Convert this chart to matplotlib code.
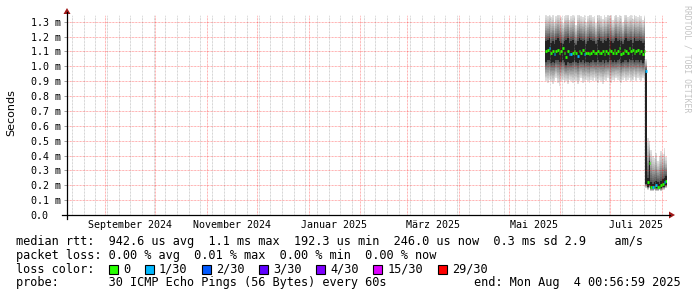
import datetime as dt

import matplotlib
matplotlib.use("Agg")
import matplotlib.pyplot as plt
import matplotlib.dates as mdates
import numpy as np
from matplotlib.patches import Polygon, Rectangle
from matplotlib.transforms import blended_transform_factory

W, H, DPI = 697, 297, 100

end_time = dt.datetime(2025, 8, 4, 0, 56, 59)
span_days = 360
first_day = dt.datetime(2025, 5, 23)

# one value per day, milliseconds
median_ms = [
    1.10, 1.11, 1.12, 1.09, 1.10, 1.08, 1.10, 1.11, 1.09, 1.10,
    1.12, 1.09, 1.06, 1.10, 1.08, 1.08, 1.09, 1.10, 1.09, 1.07,
    1.10, 1.09, 1.11, 1.08, 1.09, 1.09, 1.08, 1.09, 1.10, 1.09,
    1.09, 1.10, 1.09, 1.09, 1.10, 1.08, 1.10, 1.09, 1.11, 1.10,
    1.09, 1.11, 1.09, 1.10, 1.12, 1.08, 1.09, 1.11, 1.10, 1.09,
    1.12, 1.10, 1.11, 1.09, 1.10, 1.11, 1.09, 1.10, 1.08, 1.10,
    0.97,
    0.22, 0.35, 0.19, 0.19, 0.19, 0.20, 0.19, 0.19, 0.20, 0.21, 0.22, 0.23,
]
loss_count = [
    0, 0, 1, 0, 0, 1, 0, 0, 0, 0,
    0, 0, 0, 0, 1, 1, 0, 0, 0, 1,
    0, 0, 0, 1, 0, 0, 0, 0, 0, 0,
    0, 0, 0, 0, 0, 0, 0, 0, 0, 0,
    0, 0, 0, 0, 0, 0, 0, 0, 0, 0,
    0, 0, 0, 0, 0, 0, 0, 0, 0, 0,
    1,
    0, 0, 0, 1, 0, 1, 0, 0, 0, 0, 1, 0,
]
smoke_lo_ms = [
    0.90, 0.89, 0.91, 0.90, 0.88, 0.90, 0.92, 0.89, 0.87, 0.90,
    0.91, 0.89, 0.90, 0.88, 0.91, 0.90, 0.89, 0.91, 0.90, 0.88,
    0.90, 0.92, 0.89, 0.90, 0.91, 0.90, 0.89, 0.91, 0.90, 0.92,
    0.90, 0.89, 0.91, 0.90, 0.88, 0.91, 0.90, 0.92, 0.90, 0.89,
    0.91, 0.90, 0.92, 0.91, 0.90, 0.89, 0.91, 0.92, 0.90, 0.91,
    0.92, 0.90, 0.91, 0.93, 0.90, 0.92, 0.91, 0.90, 0.92, 0.91,
    0.18,
    0.17, 0.18, 0.16, 0.16, 0.17, 0.16, 0.16, 0.17, 0.16, 0.17, 0.17, 0.18,
]
smoke_core_lo_ms = [
    1.03, 1.04, 1.04, 1.02, 1.03, 1.02, 1.04, 1.04, 1.03, 1.03,
    1.04, 1.03, 1.01, 1.03, 1.02, 1.02, 1.03, 1.04, 1.03, 1.02,
    1.04, 1.03, 1.04, 1.02, 1.03, 1.03, 1.02, 1.03, 1.04, 1.03,
    1.03, 1.04, 1.03, 1.03, 1.04, 1.02, 1.04, 1.03, 1.04, 1.04,
    1.03, 1.04, 1.03, 1.04, 1.05, 1.02, 1.03, 1.04, 1.04, 1.03,
    1.05, 1.04, 1.04, 1.03, 1.04, 1.04, 1.03, 1.04, 1.02, 1.04,
    0.21,
    0.19, 0.20, 0.18, 0.18, 0.18, 0.18, 0.18, 0.18, 0.18, 0.19, 0.19, 0.20,
]
smoke_core_hi_ms = [
    1.17, 1.18, 1.19, 1.16, 1.17, 1.15, 1.18, 1.19, 1.17, 1.16,
    1.15, 1.17, 1.18, 1.19, 1.16, 1.17, 1.18, 1.16, 1.14, 1.17,
    1.19, 1.18, 1.17, 1.18, 1.15, 1.17, 1.19, 1.18, 1.17, 1.17,
    1.15, 1.18, 1.19, 1.17, 1.16, 1.18, 1.17, 1.19, 1.18, 1.17,
    1.16, 1.17, 1.19, 1.17, 1.18, 1.17, 1.15, 1.18, 1.19, 1.17,
    1.17, 1.18, 1.16, 1.19, 1.17, 1.17, 1.18, 1.17, 1.16, 1.17,
    0.97,
    0.25, 0.36, 0.22, 0.21, 0.22, 0.23, 0.22, 0.21, 0.23, 0.24, 0.25, 0.26,
]
smoke_hi_ms = [
    1.35, 1.34, 1.36, 1.33, 1.35, 1.30, 1.34, 1.36, 1.35, 1.33,
    1.29, 1.34, 1.35, 1.36, 1.31, 1.34, 1.35, 1.33, 1.28, 1.35,
    1.36, 1.34, 1.33, 1.35, 1.30, 1.34, 1.36, 1.35, 1.33, 1.34,
    1.29, 1.35, 1.36, 1.34, 1.32, 1.35, 1.33, 1.36, 1.34, 1.35,
    1.31, 1.34, 1.36, 1.33, 1.35, 1.34, 1.30, 1.35, 1.36, 1.33,
    1.34, 1.35, 1.32, 1.36, 1.34, 1.33, 1.35, 1.34, 1.31, 1.33,
    1.05,
    0.52, 0.50, 0.44, 0.40, 0.38, 0.42, 0.36, 0.40, 0.43, 0.41, 0.45, 0.39,
]

y_ticks = [0.0, 0.1, 0.2, 0.3, 0.4, 0.5, 0.6, 0.7, 0.8, 0.9, 1.0, 1.1, 1.2, 1.3]
label_months = [(2024, 9), (2024, 11), (2025, 1), (2025, 3), (2025, 5), (2025, 7)]
label_names = ["September 2024", "November 2024", "Januar 2025",
               "März 2025", "Mai 2025", "Juli 2025"]

loss_levels = [0, 1, 2, 3, 4, 15, 29]
loss_names = ["0", "1/30", "2/30", "3/30", "4/30", "15/30", "29/30"]
loss_colors = ["#26ff00", "#00b8ff", "#0059ff", "#5e00ff", "#7e00ff", "#dd00ff", "#ff0000"]

summary_lines = [
    "median rtt:  942.6 us avg  1.1 ms max  192.3 us min  246.0 us now  0.3 ms sd 2.9    am/s",
    "packet loss: 0.00 % avg  0.01 % max  0.00 % min  0.00 % now",
]
probe_text = "probe:       30 ICMP Echo Pings (56 Bytes) every 60s"
end_text = "end: Mon Aug  4 00:56:59 2025"

MONO = "DejaVu Sans Mono"
TEXT_PT = 8.55
CHAR_W = TEXT_PT / 72 * DPI * 0.602
DOTS = (0.36, (0.72, 0.72))  # 1px on, 1px off


def fx(x):
    return x / W


def fy(y):
    return 1 - y / H


def loss_class(c):
    k = 0
    for i, lvl in enumerate(loss_levels):
        if c >= lvl:
            k = i
    return k


def draw_smoke(ax, x0):
    lo = np.array(smoke_lo_ms)
    clo = np.array(smoke_core_lo_ms)
    chi = np.array(smoke_core_hi_ms)
    hi = np.array(smoke_hi_ms)
    steps = 14
    for s in range(steps):
        f = s / steps
        bottom = lo + (clo - lo) * f
        top = hi - (hi - chi) * f
        g = 0.88 - 0.60 * f ** 1.2
        ax.bar(x0, top - bottom, bottom=bottom, width=1.0, align="edge",
               color=(g, g, g), linewidth=0, antialiased=False, zorder=1)
    ax.bar(x0, chi - clo, bottom=clo, width=1.0, align="edge",
           color="#222222", linewidth=0, antialiased=False, zorder=1)


def draw_median(ax, x0):
    classes = [loss_class(c) for c in loss_count]
    for k, col in enumerate(loss_colors):
        sel = [i for i, c in enumerate(classes) if c == k]
        if not sel:
            continue
        ax.hlines([median_ms[i] for i in sel], [x0[i] for i in sel],
                  [x0[i] + 1 for i in sel], colors=col, lw=2.0, zorder=4,
                  capstyle="butt")


def main():
    fig = plt.figure(figsize=(W / DPI, H / DPI), dpi=DPI, facecolor="white")
    ax = fig.add_axes([fx(67), fy(215), 600 / W, 200 / H])

    start_time = end_time - dt.timedelta(days=span_days)
    ax.set_xlim(mdates.date2num(start_time), mdates.date2num(end_time))
    ax.set_ylim(0, 200 / 148.7)

    days = [first_day + dt.timedelta(days=i) for i in range(len(median_ms))]
    x0 = mdates.date2num(days)
    draw_smoke(ax, x0)
    draw_median(ax, x0)

    # grid: months (major), weeks (minor), 0.1 ms steps
    ax.xaxis.set_major_locator(mdates.MonthLocator())
    ax.xaxis.set_minor_locator(mdates.WeekdayLocator(byweekday=mdates.MO))
    ax.set_axisbelow(False)
    ax.grid(True, which="major", color="#ff0000", alpha=0.4,
            linestyle=DOTS, linewidth=0.72)
    ax.grid(True, which="minor", axis="x", color="#909090", alpha=0.5,
            linestyle=DOTS, linewidth=0.72)
    ax.tick_params(axis="x", which="both", length=0, labelbottom=False)

    ax.set_yticks(y_ticks)
    ax.set_yticklabels(["0.0" if v == 0 else f"{v:.1f} m" for v in y_ticks],
                       family=MONO, fontsize=7.2, ha="left")
    ax.tick_params(axis="y", length=3 * 0.72, width=0.72, color="#a0a0a0",
                   pad=(67 - 30.7 - 3) * 0.72)

    for s in ax.spines.values():
        s.set_visible(False)

    trans = blended_transform_factory(ax.transData, ax.transAxes)
    for (yr, mo), name in zip(label_months, label_names):
        a = dt.datetime(yr, mo, 1)
        b = dt.datetime(yr + (mo // 12), mo % 12 + 1, 1)
        mid = (mdates.date2num(a) + mdates.date2num(b)) / 2
        ax.text(mid, -9.7 / 200, name, transform=trans, ha="center",
                va="center", family=MONO, fontsize=7.2, color="black")

    # axes with arrow heads
    fig.add_artist(plt.Line2D([fx(62), fx(670)], [fy(215), fy(215)],
                              color="black", lw=0.9))
    fig.add_artist(plt.Line2D([fx(67), fx(67)], [fy(219), fy(12)],
                              color="black", lw=0.9))
    arrow_col = "#a01818"
    fig.add_artist(Polygon([(fx(669), fy(211.5)), (fx(675), fy(215)),
                            (fx(669), fy(218.5))], closed=True,
                           color=arrow_col, lw=0))
    fig.add_artist(Polygon([(fx(63.5), fy(14)), (fx(67), fy(8)),
                            (fx(70.5), fy(14))], closed=True,
                           color=arrow_col, lw=0))

    fig.text(fx(11), fy(113), "Seconds", rotation=90, ha="center",
             va="center", fontsize=8, color="black")
    fig.text(fx(687), fy(5), "RRDTOOL / TOBI OETIKER", rotation=270,
             ha="center", va="top", family=MONO, fontsize=5.9, color="#c4c4c4")

    # legend block
    for i, line in enumerate(summary_lines):
        fig.text(fx(16), fy(241.7 + 13.7 * i), line, family=MONO,
                 fontsize=TEXT_PT, va="center", ha="left")

    ly = 269.3
    fig.text(fx(16), fy(ly), "loss color:", family=MONO, fontsize=TEXT_PT,
             va="center", ha="left")
    idx = 13
    for name, col in zip(loss_names, loss_colors):
        bx = 16 + idx * CHAR_W
        fig.add_artist(Rectangle((fx(bx), fy(ly + 4.5)), 9 / W, 9 / H,
                                 facecolor=col, edgecolor="black", lw=0.8))
        fig.text(fx(16 + (idx + 2) * CHAR_W), fy(ly), name, family=MONO,
                 fontsize=TEXT_PT, va="center", ha="left")
        idx += 2 + len(name) + 2

    fig.text(fx(16), fy(282.7), probe_text, family=MONO, fontsize=TEXT_PT,
             va="center", ha="left")
    fig.text(fx(681), fy(282.7), end_text, family=MONO, fontsize=TEXT_PT,
             va="center", ha="right")

    fig.savefig("out.png", dpi=DPI, facecolor="white")


if __name__ == "__main__":
    main()
